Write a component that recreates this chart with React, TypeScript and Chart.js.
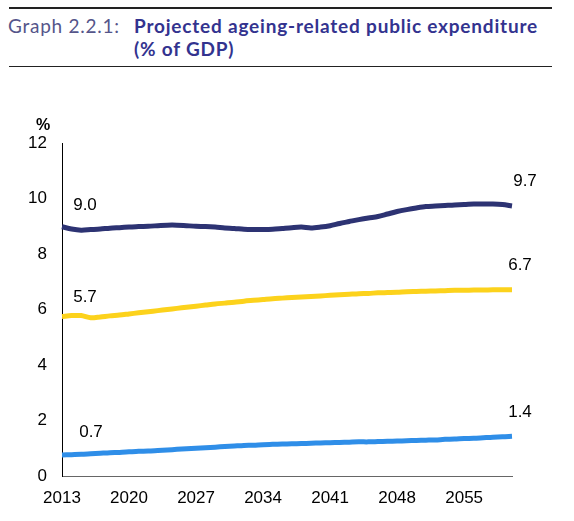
import React, { useEffect, useRef } from "react";
import { Chart, registerables } from "chart.js";

Chart.register(...registerables);

const years = [
  "2013", "2014", "2015", "2016", "2017", "2018", "2019", "2020", "2021", "2022",
  "2023", "2024", "2025", "2026", "2027", "2028", "2029", "2030", "2031", "2032",
  "2033", "2034", "2035", "2036", "2037", "2038", "2039", "2040", "2041", "2042",
  "2043", "2044", "2045", "2046", "2047", "2048", "2049", "2050", "2051", "2052",
  "2053", "2054", "2055", "2056", "2057", "2058", "2059", "2060",
];

const totalSeries = [
  8.98, 8.9, 8.86, 8.88, 8.9, 8.93, 8.95, 8.97, 8.99, 9.0,
  9.02, 9.04, 9.04, 9.02, 9.0, 8.99, 8.97, 8.94, 8.92, 8.89,
  8.88, 8.88, 8.89, 8.92, 8.95, 8.97, 8.94, 8.97, 9.02, 9.1,
  9.17, 9.24, 9.3, 9.35, 9.44, 9.53, 9.6, 9.66, 9.71, 9.73,
  9.75, 9.77, 9.78, 9.8, 9.8, 9.8, 9.78, 9.73,
];

const yellowSeries = [
  5.75, 5.78, 5.78, 5.7, 5.73, 5.77, 5.8, 5.84, 5.88, 5.92,
  5.96, 6.0, 6.04, 6.08, 6.12, 6.16, 6.2, 6.23, 6.26, 6.3,
  6.33, 6.36, 6.39, 6.41, 6.43, 6.45, 6.47, 6.49, 6.51, 6.53,
  6.55, 6.57, 6.58, 6.6, 6.61, 6.62, 6.64, 6.65, 6.66, 6.67,
  6.68, 6.69, 6.69, 6.7, 6.7, 6.71, 6.71, 6.71,
];

const blueSeries = [
  0.76, 0.77, 0.78, 0.8, 0.82, 0.84, 0.85, 0.87, 0.89, 0.9,
  0.92, 0.94, 0.96, 0.98, 1.0, 1.02, 1.04, 1.06, 1.08, 1.1,
  1.11, 1.13, 1.14, 1.15, 1.16, 1.17, 1.18, 1.19, 1.2, 1.21,
  1.22, 1.23, 1.23, 1.24, 1.25, 1.26, 1.27, 1.28, 1.29, 1.3,
  1.32, 1.33, 1.35, 1.36, 1.38, 1.4, 1.41, 1.43,
];

const startLabels = ["9.0", "5.7", "0.7"];
const endLabels = ["9.7", "6.7", "1.4"];

const TITLE_PREFIX = "Graph 2.2.1:";
const TITLE_LINE1 = "Projected ageing-related public expenditure";
const TITLE_LINE2 = "(% of GDP)";
const UNIT_LABEL = "%";

const FONT = "'Liberation Sans', Arial, sans-serif";

const startOffsets = [
  [23, -21],
  [23, -19],
  [29, -23],
];
const endOffsets = [
  [13, -25],
  [8, -24],
  [8, -24],
];

const labelPlugin = {
  id: "endLabels",
  afterDraw(chart: any) {
    const ctx = chart.ctx;
    ctx.save();
    ctx.fillStyle = "#000";
    ctx.font = `17px ${FONT}`;
    ctx.textAlign = "center";
    ctx.textBaseline = "middle";
    chart.data.datasets.forEach((_: any, i: number) => {
      const meta = chart.getDatasetMeta(i);
      const pts = meta.data;
      const first = pts[0];
      const last = pts[pts.length - 1];
      ctx.fillText(startLabels[i], first.x + startOffsets[i][0], first.y + startOffsets[i][1]);
      ctx.fillText(endLabels[i], last.x + endOffsets[i][0], last.y + endOffsets[i][1]);
    });
    ctx.font = `bold 16px ${FONT}`;
    ctx.fillText(UNIT_LABEL, chart.chartArea.left - 19, chart.chartArea.top - 17);
    ctx.restore();
  },
};

export default function App() {
  const ref = useRef<HTMLCanvasElement | null>(null);

  useEffect(() => {
    if (!ref.current) return;
    const chart = new Chart(ref.current, {
      type: "line",
      data: {
        labels: years,
        datasets: [
          {
            data: totalSeries,
            borderColor: "#2d3373",
            borderWidth: 5,
            pointRadius: 0,
            tension: 0.3,
            fill: false,
          },
          {
            data: yellowSeries,
            borderColor: "#fcd21c",
            borderWidth: 5,
            pointRadius: 0,
            tension: 0.3,
            fill: false,
          },
          {
            data: blueSeries,
            borderColor: "#2f8ee8",
            borderWidth: 5,
            pointRadius: 0,
            tension: 0.3,
            fill: false,
          },
        ],
      },
      options: {
        responsive: false,
        animation: false,
        layout: { padding: { top: 63, right: 62, left: 0, bottom: 0 } },
        plugins: {
          legend: { display: false },
          tooltip: { enabled: false },
          title: { display: false },
        },
        scales: {
          x: {
            type: "category",
            offset: false,
            grid: { display: false, drawTicks: false },
            border: { display: true, color: "#666", width: 1 },
            ticks: {
              autoSkip: false,
              maxRotation: 0,
              minRotation: 0,
              padding: 12,
              color: "#000",
              font: { size: 17, family: FONT },
              callback: (_v: any, i: number) => (i % 7 === 0 ? years[i] : ""),
            },
            afterFit: (s: any) => {
              s.height = 45;
            },
          },
          y: {
            min: 0,
            max: 12,
            grid: { display: false, drawTicks: false },
            border: { display: true, color: "#000", width: 1 },
            ticks: {
              stepSize: 2,
              padding: 15,
              color: "#000",
              font: { size: 17, family: FONT },
            },
            afterFit: (s: any) => {
              s.width = 62;
            },
          },
        },
      },
      plugins: [labelPlugin],
    });
    return () => chart.destroy();
  }, []);

  return (
    <div
      style={{
        position: "absolute",
        left: 0,
        top: 0,
        width: 574,
        height: 521,
        background: "#fff",
        overflow: "hidden",
      }}
    >
      <div style={{ position: "absolute", left: 9, top: 7, width: 543, borderTop: "2px solid #222" }} />
      <div
        style={{
          position: "absolute",
          left: 8,
          top: 14,
          fontFamily: "Lato, 'Open Sans', sans-serif",
          fontSize: 19,
          letterSpacing: "0.75px",
          color: "#55558a",
          lineHeight: "23px",
          whiteSpace: "nowrap",
        }}
      >
        {TITLE_PREFIX}
      </div>
      <div
        style={{
          position: "absolute",
          left: 134,
          top: 14,
          fontFamily: "Lato, 'Open Sans', sans-serif",
          fontSize: 19,
          fontWeight: 700,
          letterSpacing: "0.8px",
          color: "#33338f",
          lineHeight: "23px",
          whiteSpace: "nowrap",
        }}
      >
        <div>{TITLE_LINE1}</div>
        <div>{TITLE_LINE2}</div>
      </div>
      <div style={{ position: "absolute", left: 9, top: 66, width: 543, borderTop: "1.5px solid #222" }} />
      <div style={{ position: "absolute", left: 0, top: 80, width: 574, height: 441 }}>
        <canvas ref={ref} width={574} height={441} style={{ display: "block" }} />
      </div>
    </div>
  );
}
